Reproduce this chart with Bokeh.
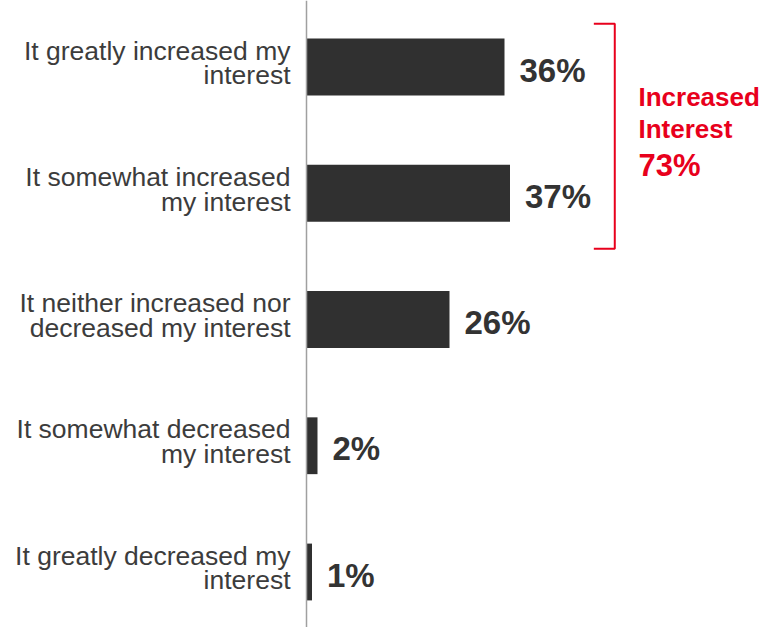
from bokeh.plotting import figure
from bokeh.models import Range1d, Span, ColumnDataSource
from bokeh.core.properties import value
from bokeh.embed import file_html
from bokeh.resources import INLINE

categories = [
    "It greatly increased my\ninterest",
    "It somewhat increased\nmy interest",
    "It neither increased nor\ndecreased my interest",
    "It somewhat decreased\nmy interest",
    "It greatly decreased my\ninterest",
]
values = [36, 37, 26, 2, 1]
value_labels = ["36%", "37%", "26%", "2%", "1%"]
summary_lines = ["Increased", "Interest"]
summary_value = values[0] + values[1]

W, H = 762, 627
PX_PER_UNIT = 5.5
ZERO_X = 306
ROW = 126.25
FIRST_Y = 66.5
SHIFT = -10.5  # baseline correction (px)

p = figure(width=W, height=H, output_backend="svg", toolbar_location=None,
           x_range=Range1d(-ZERO_X / PX_PER_UNIT, (W - ZERO_X) / PX_PER_UNIT),
           y_range=Range1d((H - FIRST_Y) / ROW, -FIRST_Y / ROW),
           min_border=0, outline_line_color=None)
p.xaxis.visible = False
p.yaxis.visible = False
p.grid.visible = False
p.background_fill_color = "white"
p.border_fill_color = "white"

ys = list(range(len(categories)))
line1 = [c.split("\n")[0] for c in categories]
line2 = [c.split("\n")[1] for c in categories]
src = ColumnDataSource(dict(y=ys, v=values, l1=line1, l2=line2, lab=value_labels,
                            zero=[0] * len(ys)))

p.hbar(y="y", left="zero", right="v", height=0.45, source=src,
       fill_color="#303030", line_color=None)

p.add_layout(Span(location=0, dimension="height", line_color="#a0a0a0", line_width=1.5))

cat_font = dict(text_align="right", text_baseline="alphabetic",
                text_font=value("Liberation Sans"), text_font_size="26.5px",
                text_color="#3c3c3c")
p.text(x="zero", y="y", text="l1", source=src, x_offset=-16, y_offset=-6 + SHIFT, **cat_font)
p.text(x="zero", y="y", text="l2", source=src, x_offset=-16, y_offset=18.8 + SHIFT, **cat_font)

p.text(x="v", y="y", text="lab", source=src, x_offset=15, y_offset=13.5 + SHIFT,
       text_align="left", text_baseline="alphabetic",
       text_font=value("Liberation Sans"), text_font_style="bold",
       text_font_size="33px", text_color="#333333")

# bracket grouping the two "increased" answers
red = "#E8001C"
bx = 56.05
bl = 52.24
top = -0.342
bot = 1.44
p.line(x=[bl, bx, bx, bl], y=[top, top, bot, bot], line_color=red, line_width=2)

red_font = dict(text_align="left", text_baseline="alphabetic",
                text_font=value("Liberation Sans"), text_font_style="bold",
                text_color=red, y_offset=SHIFT)
p.text(x=[60.36, 60.36], y=[0.321, 0.574], text=summary_lines,
       text_font_size="26px", **red_font)
p.text(x=[60.36], y=[0.867], text=[f"{summary_value}%"],
       text_font_size="31px", **red_font)

open("out.html", "w").write(file_html(p, INLINE))
